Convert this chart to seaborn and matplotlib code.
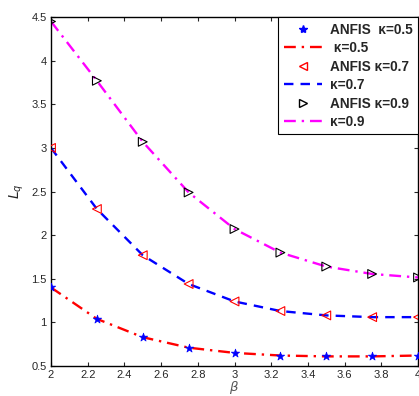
import matplotlib
matplotlib.use("Agg")
import matplotlib.pyplot as plt
import seaborn as sns
import pandas as pd
from matplotlib.lines import Line2D

sns.set_style("ticks")
plt.rcParams['font.family'] = ['Liberation Sans', 'DejaVu Sans']

beta = [2.0, 2.25, 2.5, 2.75, 3.0, 3.25, 3.5, 3.75, 4.0]
lq_k05 = [1.40, 1.04, 0.83, 0.71, 0.65, 0.62, 0.61, 0.61, 0.62]
lq_k07 = [3.00, 2.30, 1.77, 1.44, 1.24, 1.13, 1.08, 1.06, 1.06]
lq_k09 = [4.45, 3.77, 3.07, 2.49, 2.07, 1.80, 1.64, 1.555, 1.515]
anfis_labels = ["ANFIS  κ=0.5", "ANFIS κ=0.7", "ANFIS κ=0.9"]
line_labels = [" κ=0.5", "κ=0.7", "κ=0.9"]
xticks = [2, 2.2, 2.4, 2.6, 2.8, 3, 3.2, 3.4, 3.6, 3.8, 4]
yticks = [0.5, 1, 1.5, 2, 2.5, 3, 3.5, 4, 4.5]

df = pd.DataFrame({"beta": beta, "k05": lq_k05, "k07": lq_k07, "k09": lq_k09})

fig = plt.figure(figsize=(4.19, 3.96), dpi=100)
ax = fig.add_axes([0.1217, 0.0758, 0.876, 0.881])

line_styles = [
    dict(color="red", linestyle=(0, (5, 2.5, 1, 2.5))),
    dict(color="blue", linestyle=(0, (4, 3))),
    dict(color="magenta", linestyle=(0, (5, 2.5, 1, 2.5))),
]
cols = ["k05", "k07", "k09"]
for c, st in zip(cols, line_styles):
    sns.lineplot(data=df, x="beta", y=c, ax=ax, linewidth=1.7, **st)

sns.scatterplot(data=df, x="beta", y="k05", ax=ax, marker="*", s=40,
                color="blue", edgecolor="blue", linewidth=0.5, zorder=5)
sns.scatterplot(data=df, x="beta", y="k07", ax=ax, marker="<", s=40,
                facecolor="none", edgecolor="red", linewidth=0.8, zorder=5)
sns.scatterplot(data=df, x="beta", y="k09", ax=ax, marker=">", s=40,
                facecolor="none", edgecolor="black", linewidth=0.8, zorder=5)

ax.set_xlim(2, 4)
ax.set_ylim(0.5, 4.5)
ax.set_xticks(xticks)
ax.set_xticklabels([f"{t:g}" for t in xticks])
ax.set_yticks(yticks)
ax.set_yticklabels([f"{t:g}" for t in yticks])
ax.tick_params(direction="in", top=True, right=True, labelsize=8, length=3, width=0.8, pad=3)
for sp in ax.spines.values():
    sp.set_visible(True)
    sp.set_linewidth(1.0)
    sp.set_color("black")

ax.set_xlabel(r"$\beta$", fontsize=9.5, color="#555555", labelpad=-1)
ax.set_ylabel(r"$L_q$", fontsize=10, labelpad=4)

handles = [
    Line2D([], [], linestyle="none", marker="*", color="blue", markersize=6),
    Line2D([], [], linewidth=1.7, **line_styles[0]),
    Line2D([], [], linestyle="none", marker="<", markerfacecolor="none", markeredgecolor="red", markersize=6),
    Line2D([], [], linewidth=1.7, **line_styles[1]),
    Line2D([], [], linestyle="none", marker=">", markerfacecolor="none", markeredgecolor="black", markersize=6),
    Line2D([], [], linewidth=1.7, **line_styles[2]),
]
labels = [anfis_labels[0], line_labels[0], anfis_labels[1], line_labels[1], anfis_labels[2], line_labels[2]]
leg = ax.legend(handles, labels, loc="upper right", frameon=True, fancybox=False,
                edgecolor="black", framealpha=1, borderaxespad=0, handlelength=2.8,
                handletextpad=0.6, labelspacing=0.33, borderpad=0.4,
                prop={"weight": "bold", "size": 9.8})
leg.get_frame().set_linewidth(0.8)

fig.savefig("out.png", dpi=100)
